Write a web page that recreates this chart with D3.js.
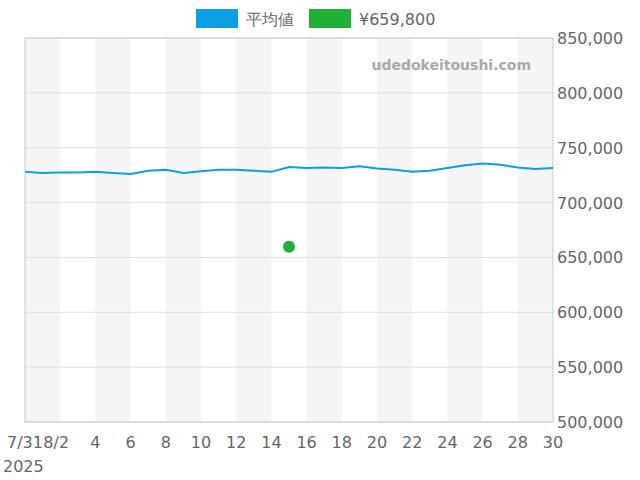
<!DOCTYPE html><html><head><meta charset="utf-8">
<script src="https://cdn.jsdelivr.net/npm/d3@7"></script>
<style>body{margin:0}text{font-family:"DejaVu Sans",sans-serif}</style></head><body>
<svg id="c" width="640" height="480"></svg>
<script>
const startDate = "2025-07-31";
const avgValues = [728000,727000,727500,727500,728000,727000,726000,729000,730000,727000,728500,730000,730000,729000,728000,732500,731500,732000,731500,733000,731000,730000,728000,729000,731500,734000,735500,734500,732000,730500,731500];
const saleDates = ["2025-08-15"];
const saleValues = [659800];
const yTicks = [500000,550000,600000,650000,700000,750000,800000,850000];
const xTickLabels = ["7/31","8/2","4","6","8","10","12","14","16","18","20","22","24","26","28","30"];

const svg = d3.select("#c");
const m = {l:25,r:553,t:38,b:422};
const parse = d3.utcParse("%Y-%m-%d");
const d0 = parse(startDate);
const dates = avgValues.map((v,i)=>d3.utcDay.offset(d0,i));
const x = d3.scaleUtc().domain([dates[0],dates[dates.length-1]]).range([m.l,m.r]);
const y = d3.scaleLinear().domain([500000,850000]).range([m.b,m.t]);

// bands
for(let i=0;i<dates.length-1;i+=4){
  svg.append("rect").attr("x",x(dates[i])).attr("y",m.t).attr("width",x(dates[i+2])-x(dates[i])).attr("height",m.b-m.t).attr("fill","#f5f5f5");
}
// grid
yTicks.forEach(t=>svg.append("line").attr("x1",m.l).attr("x2",m.r).attr("y1",y(t)).attr("y2",y(t)).attr("stroke","#e0e0e0"));
svg.append("rect").attr("x",m.l).attr("y",m.t).attr("width",m.r-m.l).attr("height",m.b-m.t).attr("fill","none").attr("stroke","#ccc");

// y axis labels
yTicks.forEach(t=>svg.append("text").attr("x",m.r+4).attr("y",y(t)+6).attr("font-size",16).attr("fill","#666").text(d3.format(",")(t)));
// x labels
const tickDates = [dates[0]].concat(d3.range(2,31,2).map(d=>parse("2025-08-"+String(d).padStart(2,"0"))));
tickDates.forEach((d,i)=>{
  let anchor = i==0 ? "middle" : "middle";
  svg.append("text").attr("x",x(d)+(i==1?-4:0)).attr("y",448).attr("text-anchor",anchor).attr("font-size",16).attr("fill","#666").text(xTickLabels[i]);
});
svg.append("text").attr("x",3).attr("y",472).attr("font-size",16).attr("fill","#666").text("2025");

// watermark
svg.append("text").attr("x",531).attr("y",70).attr("text-anchor","end").attr("font-size",14).attr("font-weight","bold").attr("fill","#aaa").text("udedokeitoushi.com");

// line
svg.append("path").datum(avgValues).attr("fill","none").attr("stroke","#0ba0e6").attr("stroke-width",2)
  .attr("d",d3.line().x((v,i)=>x(dates[i])).y(v=>y(v)));
// points
svg.selectAll("circle.s").data(saleValues).enter().append("circle").attr("cx",(v,i)=>x(parse(saleDates[i]))).attr("cy",v=>y(v)).attr("r",6).attr("fill","#20b038");

// legend
svg.append("rect").attr("x",196).attr("y",9).attr("width",42).attr("height",19).attr("fill","#0ba0e6");
svg.append("text").attr("x",246).attr("y",25).attr("font-size",16).attr("fill","#666").text("平均値");
svg.append("rect").attr("x",309).attr("y",9).attr("width",42).attr("height",19).attr("fill","#20b038");
svg.append("text").attr("x",359).attr("y",25).attr("font-size",16).attr("fill","#666").text("¥659,800");
</script></body></html>
